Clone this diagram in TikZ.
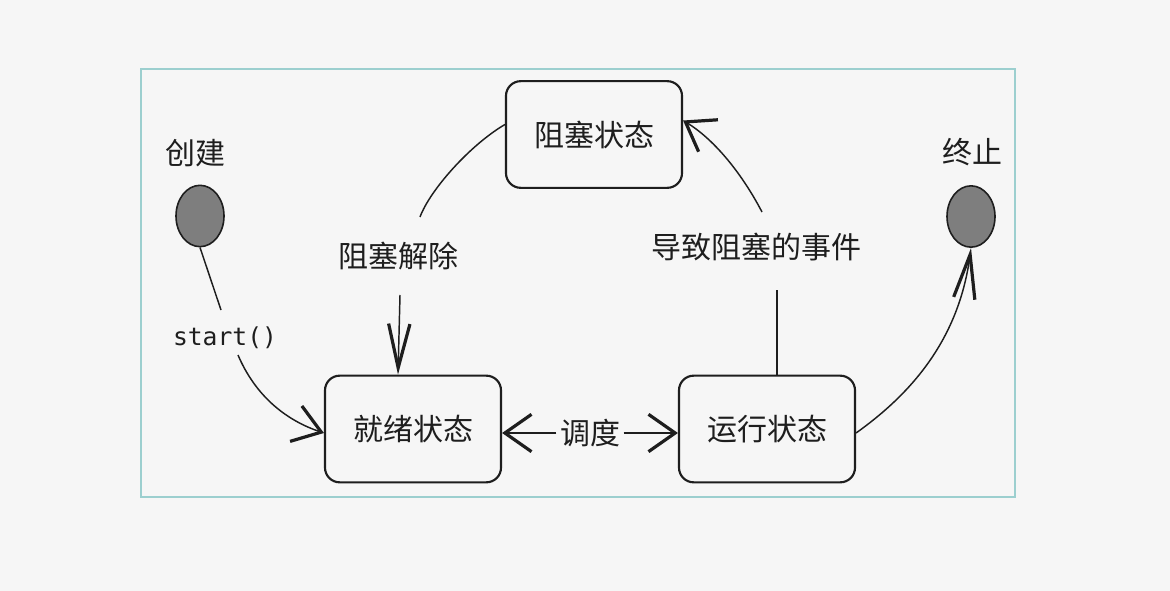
\documentclass[tikz,border=0pt]{standalone}
\usepackage{fontspec}
\newfontfamily\cjk{Noto Sans CJK SC}
\newfontfamily\monof{DejaVu Sans Mono}
\usetikzlibrary{arrows.meta,shapes.geometric,calc}
\definecolor{bgc}{HTML}{F6F6F6}
\definecolor{framec}{HTML}{9CCFCF}
\definecolor{ink}{HTML}{1E1E1E}
\definecolor{dotc}{HTML}{7E7E7E}
\begin{document}
\begin{tikzpicture}[x=0.75pt,y=-0.75pt,
  state/.style={draw=ink, line width=1.6pt, rounded corners=11pt,
    minimum width=132pt, minimum height=80pt, fill=bgc, text=ink,
    font=\cjk\fontsize{22.5}{26}\selectfont, inner sep=0pt},
  pseudo/.style={ellipse, draw=ink, line width=1.2pt, fill=dotc,
    minimum width=36pt, minimum height=46pt, inner sep=0pt},
  lbl/.style={font=\cjk\fontsize{22.5}{26}\selectfont, text=ink, inner sep=0pt},
  conn/.style={draw=ink, line width=1.1pt},
  tipa/.style={-{Straight Barb[length=20pt,width=28pt,line width=2.4pt]}},
  tipb/.style={-{Straight Barb[length=33pt,width=16pt,line width=2.4pt]}}
]
\useasboundingbox (0,0) rectangle (1170,591);
\fill[bgc] (0,0) rectangle (1170,591);
\draw[framec, line width=1.2pt] (141,69) rectangle (1015,497);

\node[state] (blk) at (594,134.5) {阻塞状态};
\node[state] (rdy) at (413,429) {就绪状态};
\node[state] (run) at (767,429) {运行状态};
\node[pseudo] (ini) at (200,216) {};
\node[pseudo] (fin) at (971,216.5) {};

\node[lbl] (lini) at (195,153) {创建};
\node[lbl] (lfin) at (972,152) {终止};
\node[lbl, font=\monof\fontsize{18.5}{20}\selectfont] (lstart) at (225,338) {start()};
\node[lbl] (lunb) at (398,256) {阻塞解除};
\node[lbl] (lev) at (756,247) {导致阻塞的事件};
\node[lbl, inner sep=2.5pt] (lsch) at (590,433) {调度};

\coordinate (a1) at (221,310);
\coordinate (a2) at (238,355);
\coordinate (b1) at (420,217);
\coordinate (b2) at (400,295);
\coordinate (e1) at (777,290);
\coordinate (e2) at (762,212);

% create -> ready
\draw[conn] (ini.south) -- (a1);
\draw[conn, tipa] (a2) .. controls (255,395) and (285,420) .. ($(rdy.west)+(0,4)$);
% blocked -> ready
\draw[conn] ($(blk.west)+(0,-10)$) .. controls (470,145) and (430,190) .. (b1);
\draw[conn, tipb] (b2) -- ($(rdy.north)+(-15,0)$);
% running -> blocked
\draw[conn] ($(run.north)+(10,0)$) -- (e1);
\draw[conn, tipa] (e2) .. controls (740,170) and (712,138) .. ($(blk.east)+(0,-14)$);
% ready <-> running
\draw[conn, tipa] (lsch.west) -- ($(rdy.east)+(0,4)$);
\draw[conn, tipa] (lsch.east) -- ($(run.west)+(0,4)$);
% running -> end
\draw[conn, tipb] ($(run.east)+(0,4)$) .. controls (905,398) and (958,345) .. (fin.south);
\end{tikzpicture}
\end{document}
